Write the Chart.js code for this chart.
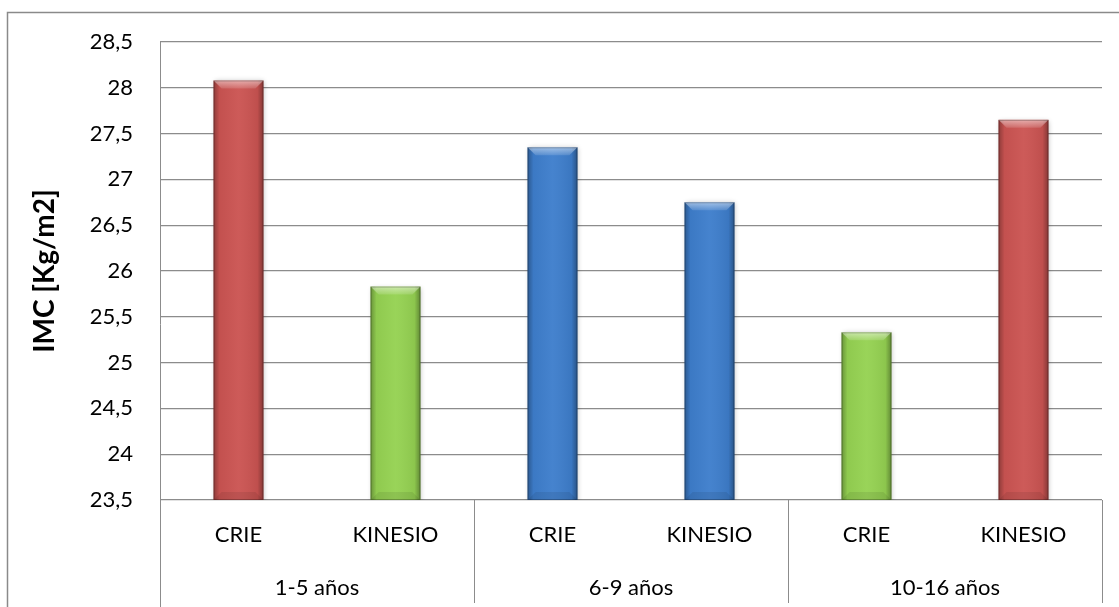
<!DOCTYPE html>
<html>
<head>
<meta charset="utf-8">
<script src="https://cdn.jsdelivr.net/npm/chart.js@4.4.1/dist/chart.umd.min.js"></script>
<style>
  html, body { margin: 0; padding: 0; background: #ffffff; }
  #wrap { width: 1119px; height: 607px; position: relative; }
</style>
</head>
<body>
<div id="wrap"><canvas id="chart" width="1119" height="607"></canvas></div>
<script>
// Sub-categories (treatment) and their age groups
const treatments = ['CRIE', 'KINESIO', 'CRIE', 'KINESIO', 'CRIE', 'KINESIO'];
const ageGroups = ['1-5 años', '6-9 años', '10-16 años'];
// IMC per bar, in Kg/m2
const imcValues = [28.08, 25.83, 27.35, 26.75, 25.33, 27.65];
// Bar colours, one per bar
const barColors = ['#CB5452', '#95D252', '#3E7ECC', '#3E7ECC', '#95D252', '#CB5452'];
// Value axis range
const yMin = 23.5, yMax = 28.5, yStep = 0.5;

const FONT = 'Lato, "Open Sans", "DejaVu Sans", sans-serif';
const LINE = '#8c8c8c';

// Frame, extended axis line and group separators below the plot
const framePlugin = {
  id: 'frame',
  beforeDraw(chart) {
    const c = chart.ctx;
    c.save();
    c.strokeStyle = '#8a8a8a';
    c.lineWidth = 1.5;
    c.beginPath();
    c.moveTo(7.5, chart.height + 5);
    c.lineTo(7.5, 12.5);
    c.lineTo(chart.width + 5, 12.5);
    c.stroke();
    c.restore();
  },
  afterDraw(chart) {
    const c = chart.ctx;
    const xs = chart.scales.x;
    const area = chart.chartArea;
    const bottom = chart.height - 4;
    const xsPos = [];
    xsPos.push(xs.left);
    for (let g = 1; g < ageGroups.length; g++) {
      const i = g * 2;
      xsPos.push((xs.getPixelForValue(i - 1) + xs.getPixelForValue(i)) / 2);
    }
    xsPos.push(xs.right);
    c.save();
    c.strokeStyle = LINE;
    c.lineWidth = 1;
    xsPos.forEach((x, k) => {
      const px = Math.round(x) + 0.5;
      c.beginPath();
      c.moveTo(px, k === 0 ? area.top : area.bottom);
      c.lineTo(px, k === 0 ? chart.height : bottom);
      c.stroke();
    });
    c.restore();
  }
};

// Bevel and shading on each bar
const bevelPlugin = {
  id: 'bevel',
  beforeDatasetsDraw(chart) {
    const c = chart.ctx;
    c.save();
    c.shadowColor = 'rgba(0,0,0,0.28)';
    c.shadowBlur = 5;
    c.shadowOffsetX = 1;
    c.shadowOffsetY = 1;
  },
  afterDatasetsDraw(chart) {
    const c = chart.ctx;
    c.restore();
    const area = chart.chartArea;
    const meta = chart.getDatasetMeta(0);
    meta.data.forEach((bar) => {
      const p = bar.getProps(['x', 'y', 'base', 'width'], true);
      const x0 = p.x - p.width / 2, x1 = p.x + p.width / 2;
      const top = Math.max(p.y, area.top);
      const bot = Math.min(p.base, area.bottom);
      const b = 8;
      c.save();
      // side shading
      const g = c.createLinearGradient(x0, 0, x1, 0);
      g.addColorStop(0, 'rgba(0,0,0,0.30)');
      g.addColorStop(0.12, 'rgba(0,0,0,0.04)');
      g.addColorStop(0.5, 'rgba(255,255,255,0.04)');
      g.addColorStop(0.88, 'rgba(0,0,0,0.06)');
      g.addColorStop(1, 'rgba(0,0,0,0.35)');
      c.fillStyle = g;
      c.fillRect(x0, top, x1 - x0, bot - top);
      // top bevel
      const tg = c.createLinearGradient(0, top, 0, top + b);
      tg.addColorStop(0, 'rgba(255,255,255,0.50)');
      tg.addColorStop(1, 'rgba(255,255,255,0.12)');
      c.fillStyle = tg;
      c.beginPath();
      c.moveTo(x0, top); c.lineTo(x1, top);
      c.lineTo(x1 - b, top + b); c.lineTo(x0 + b, top + b);
      c.closePath(); c.fill();
      // bottom bevel
      c.fillStyle = 'rgba(0,0,0,0.08)';
      c.beginPath();
      c.moveTo(x0, bot); c.lineTo(x1, bot);
      c.lineTo(x1 - b, bot - b); c.lineTo(x0 + b, bot - b);
      c.closePath(); c.fill();
      // outline
      c.strokeStyle = 'rgba(0,0,0,0.25)';
      c.lineWidth = 1;
      c.strokeRect(x0 + 0.5, top + 0.5, x1 - x0 - 1, bot - top - 1);
      c.restore();
    });
  }
};

new Chart(document.getElementById('chart'), {
  type: 'bar',
  data: {
    labels: treatments,
    datasets: [{
      data: imcValues,
      backgroundColor: barColors,
      borderWidth: 0,
      barPercentage: 0.318,
      categoryPercentage: 1.0
    }]
  },
  options: {
    responsive: false,
    animation: false,
    events: [],
    layout: { padding: { left: 0, top: 42, right: 17, bottom: 0 } },
    plugins: { legend: { display: false }, tooltip: { enabled: false } },
    scales: {
      x: {
        position: 'bottom',
        offset: true,
        grid: { display: false },
        border: { display: false },
        ticks: {
          color: '#000',
          padding: 14,
          font: { family: FONT, size: 22 }
        },
        afterFit(s) { s.height = 55; }
      },
      x2: {
        type: 'category',
        position: 'bottom',
        labels: ageGroups,
        offset: true,
        grid: { display: false },
        border: { display: false },
        ticks: {
          color: '#000',
          padding: 12,
          font: { family: FONT, size: 22 }
        },
        afterFit(s) { s.height = 52; }
      },
      y: {
        min: yMin,
        max: yMax,
        grid: { color: LINE, lineWidth: 1.2, drawTicks: false },
        border: { display: false },
        ticks: {
          stepSize: yStep,
          color: '#000',
          padding: 27,
          font: { family: FONT, size: 22 },
          callback: (v) => String(v).replace('.', ',')
        },
        title: {
          display: true,
          text: 'IMC [Kg/m2]',
          color: '#000',
          font: { family: FONT, size: 28, weight: 'bold' },
          padding: { top: 28, bottom: 0 }
        },
        afterFit(s) { s.width = 160; }
      }
    }
  },
  plugins: [framePlugin, bevelPlugin]
});
</script>
</body>
</html>
